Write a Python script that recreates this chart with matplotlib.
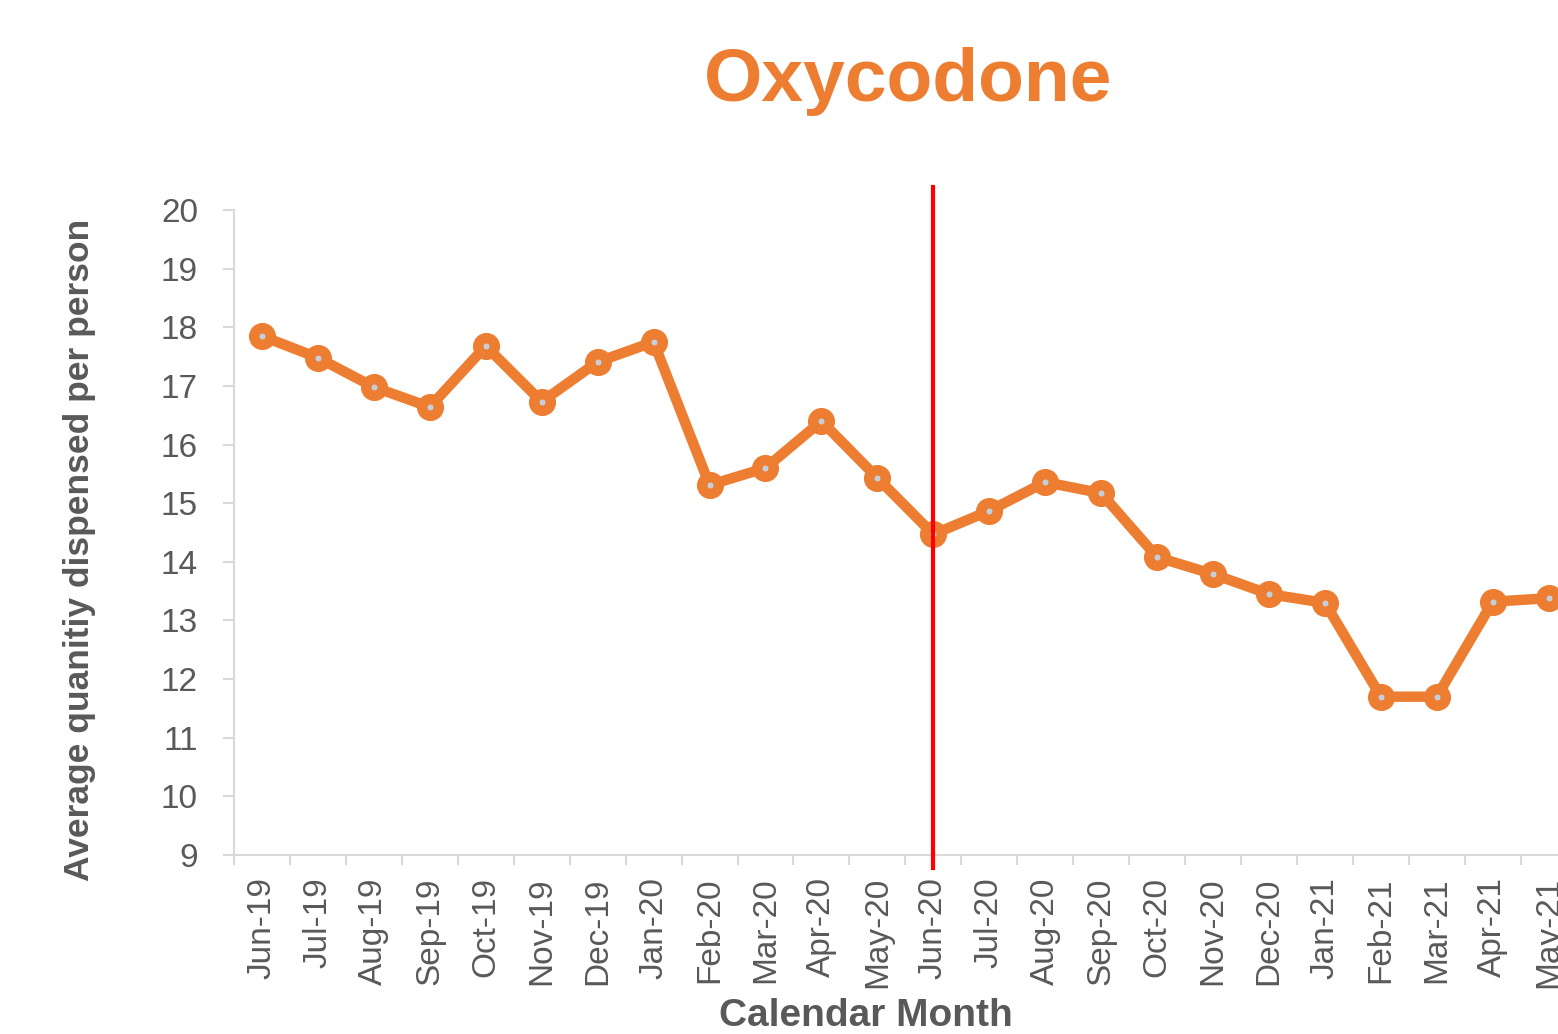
import matplotlib
matplotlib.use('Agg')
import matplotlib.pyplot as plt
from matplotlib.ticker import FixedLocator

plt.rcParams['font.family'] = ['Liberation Sans', 'DejaVu Sans']

# months shown on the x axis
months = ['Jun-19', 'Jul-19', 'Aug-19', 'Sep-19', 'Oct-19', 'Nov-19', 'Dec-19', 'Jan-20',
          'Feb-20', 'Mar-20', 'Apr-20', 'May-20', 'Jun-20', 'Jul-20', 'Aug-20', 'Sep-20',
          'Oct-20', 'Nov-20', 'Dec-20', 'Jan-21', 'Feb-21', 'Mar-21', 'Apr-21', 'May-21']
# average quantity dispensed per person
quantity = [17.85, 17.48, 16.98, 16.64, 17.68, 16.73, 17.41, 17.75,
            15.31, 15.60, 16.40, 15.43, 14.47, 14.87, 15.36, 15.17,
            14.08, 13.79, 13.45, 13.30, 11.70, 11.70, 13.32, 13.38]
marker_month = 'Jun-20'

grey = '#595959'
orange = '#ED7D31'

fig = plt.figure(figsize=(15.58, 10.34), dpi=100)
ax = fig.add_axes([0.1502, 0.1731, 0.8618, 0.6238])

x = list(range(len(months)))
ax.plot(x, quantity, color=orange, linewidth=7.5, marker='o', markersize=12,
        markeredgewidth=7.5, markeredgecolor=orange, markerfacecolor='#c5cfdc',
        zorder=3)

ax.axvline(months.index(marker_month), ymin=-0.02, ymax=1.036, color='#ff0000',
           linewidth=3, clip_on=False, zorder=4)

ax.set_xlim(-0.5, len(months) - 0.5)
ax.set_ylim(9, 20)
ax.set_yticks(range(9, 21))
ax.set_xticks(x)
ax.set_xticklabels(months, rotation=90)
ax.xaxis.set_minor_locator(FixedLocator([i - 0.5 for i in range(len(months) + 1)]))

for s in ['top', 'right']:
    ax.spines[s].set_visible(False)
for s in ['left', 'bottom']:
    ax.spines[s].set_color('#d9d9d9')
    ax.spines[s].set_linewidth(1.5)

ax.tick_params(axis='x', which='major', length=0, labelsize=24, labelcolor=grey, pad=16)
ax.tick_params(axis='x', which='minor', length=7, width=1.5, color='#d9d9d9')
ax.tick_params(axis='y', length=8, width=1.5, color='#d9d9d9', labelsize=24,
               labelcolor=grey, pad=18)

ax.set_ylabel('Average quanitiy dispensed per person', fontsize=25.5, fontweight='bold',
              color=grey)
ax.yaxis.set_label_coords(-0.1028, 0.473)
ax.set_xlabel('Calendar Month', fontsize=28, fontweight='bold', color=grey)
ax.xaxis.set_label_coords(0.4707, -0.2217)

fig.text(908 / 1558, 1 - 82 / 1034, 'Oxycodone', fontsize=54, fontweight='bold',
         color=orange, ha='center', va='center')

fig.savefig('out.png', dpi=100)
